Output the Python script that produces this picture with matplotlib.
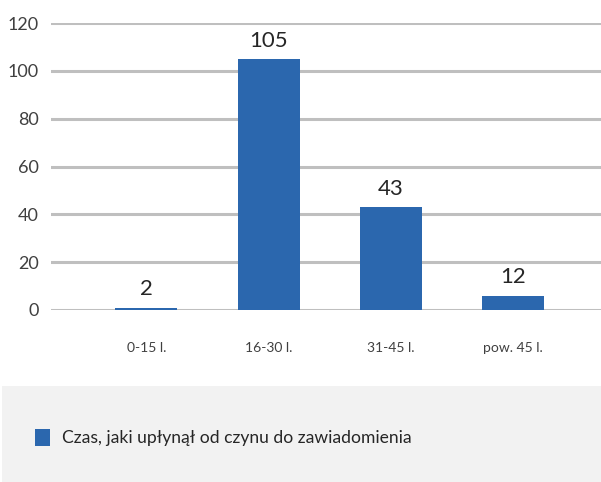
import matplotlib
matplotlib.use("Agg")
import matplotlib.pyplot as plt
from matplotlib.patches import Rectangle

categories = ["0-15 l.", "16-30 l.", "31-45 l.", "pow. 45 l."]
bar_heights = [1, 105, 43, 6]
value_labels = ["2", "105", "43", "12"]
y_ticks = [0, 20, 40, 60, 80, 100, 120]
series_name = "Czas, jaki upłynął od czynu do zawiadomienia"

plt.rcParams['font.family'] = ['Lato', 'DejaVu Sans']

W, H = 601, 482
fig = plt.figure(figsize=(W / 100, H / 100), dpi=100)
blue = "#2b67ae"

ax = fig.add_axes([51 / W, 1 - 310 / H, 1 - 51 / W, (310 - 23) / H])
x = range(len(categories))
ax.bar(x, bar_heights, width=0.507, color=blue, zorder=3)
for xi, h, lab in zip(x, bar_heights, value_labels):
    ax.text(xi, h + 3.5, lab, ha='center', va='bottom', fontsize=16, color="#262626")

ax.set_ylim(0, 120)
ax.set_xlim(-0.78, 3.72)
ax.set_yticks(y_ticks)
ax.set_xticks(list(x))
ax.set_xticklabels(categories)
ax.grid(axis='y', color="#bfbfbf", linewidth=2.2, zorder=0)
ax.set_axisbelow(True)
for s in ax.spines.values():
    s.set_visible(False)
ax.tick_params(axis='both', length=0, labelsize=13, labelcolor="#404040")
ax.tick_params(axis='y', pad=9)
ax.tick_params(axis='x', pad=23, labelsize=10)

# legend box
fig.patches.append(Rectangle((2 / W, 0), 1, (H - 386) / H, transform=fig.transFigure,
                             facecolor="#f2f2f2", edgecolor="none", zorder=0))
fig.patches.append(Rectangle((35 / W, 1 - 446 / H), 15 / W, 17 / H, transform=fig.transFigure,
                             facecolor=blue, edgecolor="none", zorder=1))
fig.text(62 / W, 1 - 438 / H, series_name, ha='left', va='center', fontsize=12.6, color="#262626")

fig.savefig("out.png", dpi=100)
